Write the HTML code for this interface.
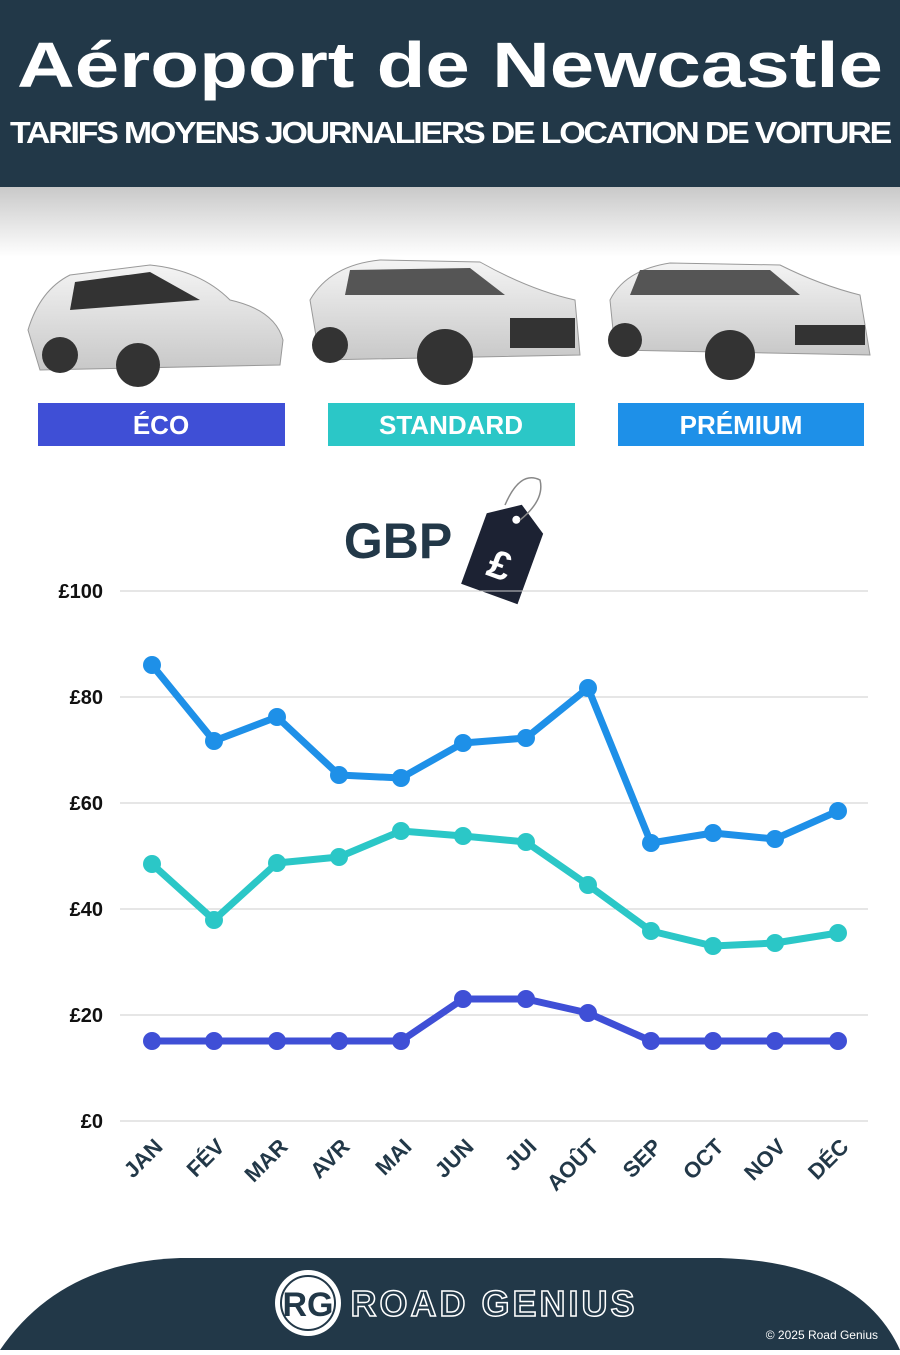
<!DOCTYPE html>
<html><head><meta charset="utf-8"><style>
body{margin:0;width:900px;height:1350px;background:#fff;overflow:hidden;font-family:"Liberation Sans",sans-serif;}
</style></head><body>
<svg width="900" height="1350" viewBox="0 0 900 1350" xmlns="http://www.w3.org/2000/svg">
<defs>
<linearGradient id="sh" x1="0" y1="0" x2="0" y2="1"><stop offset="0" stop-color="#c9c9c9"/><stop offset="1" stop-color="#fff"/></linearGradient>
<linearGradient id="car" x1="0" y1="0" x2="0" y2="1"><stop offset="0" stop-color="#f4f4f4"/><stop offset="1" stop-color="#c8c8c8"/></linearGradient>
</defs>
<rect x="0" y="0" width="900" height="187" fill="#223848"/>
<rect x="0" y="187" width="900" height="70" fill="url(#sh)"/>
<text x="450" y="87" text-anchor="middle" font-size="64" font-weight="bold" fill="#fff" textLength="866" lengthAdjust="spacingAndGlyphs">Aéroport de Newcastle</text>
<text x="450" y="143" text-anchor="middle" font-size="31" font-weight="bold" fill="#fff" letter-spacing="-2" textLength="880" lengthAdjust="spacingAndGlyphs">TARIFS MOYENS JOURNALIERS DE LOCATION DE VOITURE</text>
<!-- cars -->
<g>
<path d="M28,330 Q40,290 70,275 L150,265 Q200,270 230,300 Q275,310 283,340 L280,365 L40,370 Z" fill="url(#car)" stroke="#999"/>
<path d="M75,282 L150,272 L200,300 L70,310 Z" fill="#333"/>
<circle cx="60" cy="355" r="18" fill="#333"/><circle cx="138" cy="365" r="22" fill="#333"/>
<path d="M310,300 Q330,265 380,260 L480,262 Q530,290 575,300 L580,355 L320,360 Z" fill="url(#car)" stroke="#999"/>
<path d="M350,270 L470,268 L505,295 L345,295 Z" fill="#555"/>
<rect x="510" y="318" width="65" height="30" fill="#333"/>
<circle cx="330" cy="345" r="18" fill="#333"/><circle cx="445" cy="357" r="28" fill="#333"/>
<path d="M610,300 Q625,270 670,263 L780,265 Q820,285 860,295 L870,355 L615,350 Z" fill="url(#car)" stroke="#999"/>
<path d="M640,270 L770,270 L800,295 L630,295 Z" fill="#555"/>
<rect x="795" y="325" width="70" height="20" fill="#333"/>
<circle cx="625" cy="340" r="17" fill="#333"/><circle cx="730" cy="355" r="25" fill="#333"/>
</g>
<rect x="38" y="403" width="247" height="43" fill="#3f4fd6"/>
<rect x="328" y="403" width="247" height="43" fill="#2bc7c7"/>
<rect x="618" y="403" width="246" height="43" fill="#1e90e8"/>
<text x="161" y="434" text-anchor="middle" font-size="26" font-weight="bold" fill="#fff">ÉCO</text>
<text x="451" y="434" text-anchor="middle" font-size="26" font-weight="bold" fill="#fff">STANDARD</text>
<text x="741" y="434" text-anchor="middle" font-size="26" font-weight="bold" fill="#fff">PRÉMIUM</text>
<text x="398" y="558" text-anchor="middle" font-size="50" font-weight="bold" fill="#223848">GBP</text>
<g transform="rotate(20 500 550)">
<path d="M475,520 L505,500 L535,520 L535,595 L475,595 Z" fill="#1c2233"/>
<circle cx="505" cy="516" r="4" fill="#fff"/>
<text x="505" y="578" text-anchor="middle" font-size="40" font-weight="bold" fill="#fff">£</text>
</g>
<path d="M505,505 Q520,470 540,480 Q545,500 520,520" fill="none" stroke="#888" stroke-width="1.5"/>
<!-- grid -->
<g stroke="#ccc" stroke-width="1">
<line x1="120" y1="591" x2="868" y2="591"/><line x1="120" y1="697" x2="868" y2="697"/>
<line x1="120" y1="803" x2="868" y2="803"/><line x1="120" y1="909" x2="868" y2="909"/>
<line x1="120" y1="1015" x2="868" y2="1015"/><line x1="120" y1="1121" x2="868" y2="1121"/>
</g>
<g font-size="20" font-weight="bold" fill="#111" text-anchor="end">
<text x="103" y="598">£100</text><text x="103" y="704">£80</text><text x="103" y="810">£60</text>
<text x="103" y="916">£40</text><text x="103" y="1022">£20</text><text x="103" y="1128">£0</text>
</g>
<g fill="none" stroke-width="7" stroke-linejoin="round" stroke-linecap="round">
<polyline stroke="#1e90e8" points="152,665 214,741 277,717 339,775 401,778 463,743 526,738 588,688 651,843 713,833 775,839 838,811"/>
<polyline stroke="#2bc7c7" points="152,864 214,920 277,863 339,857 401,831 463,836 526,842 588,885 651,931 713,946 775,943 838,933"/>
<polyline stroke="#3f4fd6" points="152,1041 214,1041 277,1041 339,1041 401,1041 463,999 526,999 588,1013 651,1041 713,1041 775,1041 838,1041"/>
</g>
<g fill="#1e90e8"><circle cx="152" cy="665" r="9"/><circle cx="214" cy="741" r="9"/><circle cx="277" cy="717" r="9"/><circle cx="339" cy="775" r="9"/><circle cx="401" cy="778" r="9"/><circle cx="463" cy="743" r="9"/><circle cx="526" cy="738" r="9"/><circle cx="588" cy="688" r="9"/><circle cx="651" cy="843" r="9"/><circle cx="713" cy="833" r="9"/><circle cx="775" cy="839" r="9"/><circle cx="838" cy="811" r="9"/></g>
<g fill="#2bc7c7"><circle cx="152" cy="864" r="9"/><circle cx="214" cy="920" r="9"/><circle cx="277" cy="863" r="9"/><circle cx="339" cy="857" r="9"/><circle cx="401" cy="831" r="9"/><circle cx="463" cy="836" r="9"/><circle cx="526" cy="842" r="9"/><circle cx="588" cy="885" r="9"/><circle cx="651" cy="931" r="9"/><circle cx="713" cy="946" r="9"/><circle cx="775" cy="943" r="9"/><circle cx="838" cy="933" r="9"/></g>
<g fill="#3f4fd6"><circle cx="152" cy="1041" r="9"/><circle cx="214" cy="1041" r="9"/><circle cx="277" cy="1041" r="9"/><circle cx="339" cy="1041" r="9"/><circle cx="401" cy="1041" r="9"/><circle cx="463" cy="999" r="9"/><circle cx="526" cy="999" r="9"/><circle cx="588" cy="1013" r="9"/><circle cx="651" cy="1041" r="9"/><circle cx="713" cy="1041" r="9"/><circle cx="775" cy="1041" r="9"/><circle cx="838" cy="1041" r="9"/></g>
<g font-size="22" font-weight="bold" fill="#223848" text-anchor="end">
<text transform="translate(164,1148) rotate(-45)">JAN</text>
<text transform="translate(226,1148) rotate(-45)">FÉV</text>
<text transform="translate(289,1148) rotate(-45)">MAR</text>
<text transform="translate(351,1148) rotate(-45)">AVR</text>
<text transform="translate(413,1148) rotate(-45)">MAI</text>
<text transform="translate(475,1148) rotate(-45)">JUN</text>
<text transform="translate(538,1148) rotate(-45)">JUI</text>
<text transform="translate(600,1148) rotate(-45)">AOÛT</text>
<text transform="translate(663,1148) rotate(-45)">SEP</text>
<text transform="translate(725,1148) rotate(-45)">OCT</text>
<text transform="translate(787,1148) rotate(-45)">NOV</text>
<text transform="translate(850,1148) rotate(-45)">DÉC</text>
</g>
<!-- footer -->
<path d="M0,1350 Q60,1262 180,1258 L720,1258 Q860,1262 900,1350 Z" fill="#223848"/>
<circle cx="308" cy="1303" r="33" fill="#fff"/>
<circle cx="308" cy="1303" r="27" fill="none" stroke="#223848" stroke-width="2"/>
<text x="308" y="1316" text-anchor="middle" font-size="34" font-weight="bold" fill="#223848">RG</text>
<text x="494" y="1316" text-anchor="middle" font-size="36" font-weight="bold" fill="none" stroke="#fff" stroke-width="1.5" letter-spacing="3">ROAD GENIUS</text>
<text x="878" y="1339" text-anchor="end" font-size="12" fill="#fff">© 2025 Road Genius</text>
</svg>
</body></html>
